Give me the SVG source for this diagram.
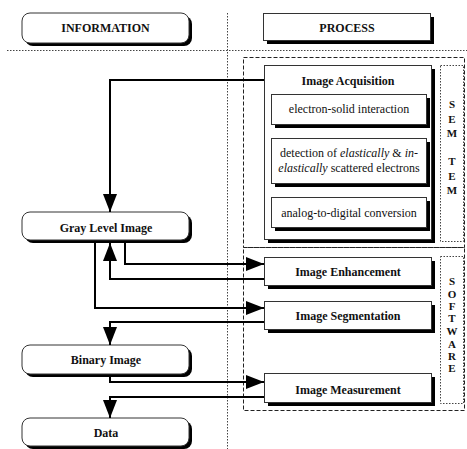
<svg xmlns="http://www.w3.org/2000/svg" width="467" height="449" viewBox="0 0 467 449">
<defs>
<marker id="arr" markerUnits="userSpaceOnUse" markerWidth="20" markerHeight="16" refX="18" refY="7" orient="auto">
<path d="M0,0 L18,7 L0,14 Z" fill="#000"/>
</marker>
</defs>
<style>
.t{font-family:"Liberation Serif","Times New Roman",serif;font-size:12px;font-weight:bold;fill:#111;text-anchor:middle}
.r{font-family:"Liberation Serif","Times New Roman",serif;font-size:12px;fill:#111;text-anchor:middle}
.l{font-family:"Liberation Serif","Times New Roman",serif;font-size:11px;font-weight:bold;fill:#111;text-anchor:middle}
.box{fill:#fff;stroke:#333;stroke-width:1}
.sh{fill:#000}
.dot{fill:none;stroke:#444;stroke-width:1;stroke-dasharray:1.5,1.5}
.dash{fill:none;stroke:#222;stroke-width:1;stroke-dasharray:4,2}
.c{fill:none;stroke:#000;stroke-width:2}
</style>
<g id="guides">
<line class="dot" x1="7" y1="50.5" x2="467" y2="50.5"/>
<line class="dot" x1="227.5" y1="13" x2="227.5" y2="449"/>
<rect class="dash" x="243.5" y="57.5" width="221" height="190"/>
<rect class="dash" x="243.5" y="247.5" width="221" height="163"/>
</g>
<g id="information">
<rect class="sh" x="25" y="16" width="167" height="30" rx="8"/>
<rect class="box" x="22" y="13" width="167" height="30" rx="8"/>
<text class="t" x="105.5" y="32">INFORMATION</text>
</g>
<g id="process">
<rect class="sh" x="267" y="17" width="167" height="27"/>
<rect class="box" x="263.5" y="13.5" width="167" height="27"/>
<text class="t" x="347" y="32">PROCESS</text>
</g>
<g id="acquisition">
<rect class="sh" x="268" y="69" width="167" height="174"/>
<rect class="box" x="264.5" y="65.5" width="167" height="174"/>
<text class="t" x="348" y="85">Image Acquisition</text>
</g>
<g id="esi">
<rect class="sh" x="275" y="98" width="155" height="30"/>
<rect class="box" x="271.5" y="94.5" width="155" height="30"/>
<text class="r" x="349" y="113">electron-solid interaction</text>
</g>
<g id="detection">
<rect class="sh" x="275" y="142" width="155" height="45"/>
<rect class="box" x="271.5" y="138.5" width="155" height="45"/>
<text class="r" x="349" y="157">detection of <tspan font-style="italic">elastically</tspan> &amp; <tspan font-style="italic">in-</tspan></text>
<text class="r" x="349" y="172"><tspan font-style="italic">elastically</tspan> scattered electrons</text>
</g>
<g id="adc">
<rect class="sh" x="275" y="201" width="155" height="30"/>
<rect class="box" x="271.5" y="197.5" width="155" height="30"/>
<text class="r" x="349" y="217">analog-to-digital conversion</text>
</g>
<g id="semtem">
<rect class="dot" x="440.5" y="65.5" width="23" height="176"/>
<text class="l" x="452" y="108">S</text>
<text class="l" x="452" y="123">E</text>
<text class="l" x="452" y="137">M</text>
<text class="l" x="452" y="165">T</text>
<text class="l" x="452" y="180">E</text>
<text class="l" x="452" y="194">M</text>
</g>
<g id="software">
<rect class="dot" x="440.5" y="256.5" width="23" height="147"/>
<text class="l" x="452" y="285">S</text>
<text class="l" x="452" y="298">O</text>
<text class="l" x="452" y="310">F</text>
<text class="l" x="452" y="322">T</text>
<text class="l" x="452" y="335">W</text>
<text class="l" x="452" y="348">A</text>
<text class="l" x="452" y="360">R</text>
<text class="l" x="452" y="372">E</text>
</g>
<g id="enhancement">
<rect class="sh" x="268" y="261" width="167" height="28"/>
<rect class="box" x="264.5" y="257.5" width="167" height="28"/>
<text class="t" x="348" y="276">Image Enhancement</text>
</g>
<g id="segmentation">
<rect class="sh" x="268" y="305" width="167" height="28"/>
<rect class="box" x="264.5" y="301.5" width="167" height="28"/>
<text class="t" x="348" y="320">Image Segmentation</text>
</g>
<g id="measurement">
<rect class="sh" x="268" y="377" width="167" height="29"/>
<rect class="box" x="264.5" y="373.5" width="167" height="29"/>
<text class="t" x="348" y="394">Image Measurement</text>
</g>
<g id="gray">
<rect class="sh" x="25" y="215" width="167" height="28" rx="8"/>
<rect class="box" x="22" y="212" width="167" height="28" rx="8"/>
<text class="t" x="106" y="232">Gray Level Image</text>
</g>
<g id="binary">
<rect class="sh" x="25" y="348" width="167" height="29" rx="8"/>
<rect class="box" x="22" y="345" width="167" height="29" rx="8"/>
<text class="t" x="106" y="364">Binary Image</text>
</g>
<g id="data">
<rect class="sh" x="25" y="421" width="167" height="28" rx="8"/>
<rect class="box" x="22" y="418" width="167" height="28" rx="8"/>
<text class="t" x="106" y="437">Data</text>
</g>
<g id="connectors">
<path class="c" d="M264,80 H110 V212" marker-end="url(#arr)"/>
<path class="c" d="M125,243 V264 H264" marker-end="url(#arr)"/>
<path class="c" d="M264,279 H110 V243" marker-end="url(#arr)"/>
<path class="c" d="M95,243 V308 H264" marker-end="url(#arr)"/>
<path class="c" d="M264,322 H110 V345" marker-end="url(#arr)"/>
<path class="c" d="M110,377 V382 H264" marker-end="url(#arr)"/>
<path class="c" d="M264,397 H110 V418" marker-end="url(#arr)"/>
</g>
</svg>
